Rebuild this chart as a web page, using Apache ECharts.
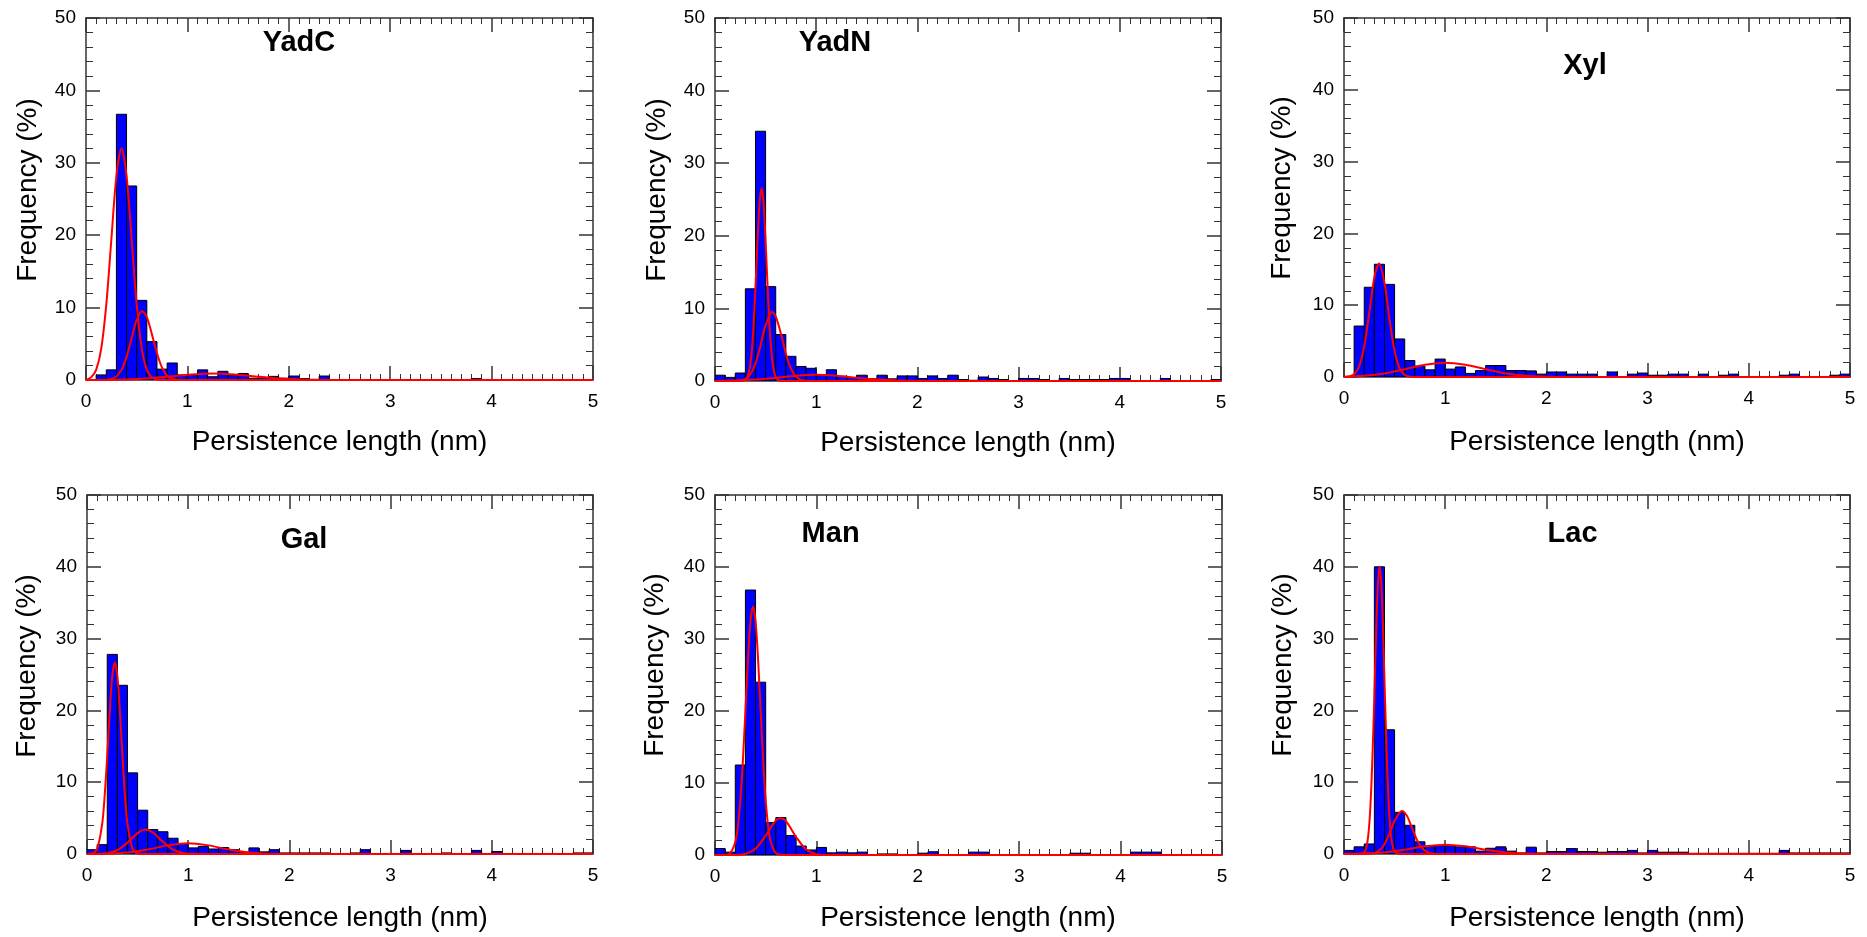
<!DOCTYPE html>
<html>
<head>
<meta charset="utf-8">
<script src="https://cdn.jsdelivr.net/npm/echarts@6/dist/echarts.min.js"></script>
<style>
html,body{margin:0;padding:0;background:#ffffff;}
#chart{width:1867px;height:937px;}
</style>
</head>
<body>
<div id="chart"></div>
<script>
// ---------------- DATA ----------------
const panelNames = ['YadC', 'YadN', 'Xyl', 'Gal', 'Man', 'Lac'];
const xTitle = 'Persistence length (nm)';
const yTitle = 'Frequency (%)';
const xTickLabels = ['0', '1', '2', '3', '4', '5'];
const yTickLabels = ['0', '10', '20', '30', '40', '50'];
const binWidth = 0.1;
const binStarts = [0,0.1,0.2,0.3,0.4,0.5,0.6,0.7,0.8,0.9,
  1.0,1.1,1.2,1.3,1.4,1.5,1.6,1.7,1.8,1.9,
  2.0,2.1,2.2,2.3,2.4,2.5,2.6,2.7,2.8,2.9,
  3.0,3.1,3.2,3.3,3.4,3.5,3.6,3.7,3.8,3.9,
  4.0,4.1,4.2,4.3,4.4,4.5,4.6,4.7,4.8,4.9];

// histogram frequencies (%) per bin
const yadcFreq = [0,0.7,1.4,36.7,26.8,11.0,5.3,1.5,2.35,0.7,
  0.7,1.4,0.45,1.2,0.6,0.9,0.25,0.3,0.5,0.25,
  0.55,0.2,0,0.55,0,0,0,0,0,0,
  0,0,0,0,0,0,0,0,0.2,0,
  0,0,0,0,0,0,0,0,0,0];
const yadnFreq = [0.8,0.5,1.1,12.7,34.4,13.0,6.4,3.4,2.0,1.75,
  0.8,1.55,0.65,0.45,0.8,0.3,0.8,0.3,0.7,0.7,
  0.35,0.7,0.35,0.8,0.2,0.1,0.55,0.35,0.2,0,
  0.35,0.35,0.2,0,0.35,0.2,0.2,0.2,0.2,0.35,
  0.35,0,0,0,0.35,0,0,0,0,0.2];
const xylFreq = [0,7.1,12.5,15.7,12.9,5.3,2.3,1.5,1.0,2.5,
  1.1,1.4,0.5,0.9,1.6,1.6,0.9,0.9,0.85,0.4,
  0.7,0.7,0.4,0.4,0.4,0,0.7,0,0.4,0.55,
  0.25,0.25,0.4,0.4,0,0.4,0,0.25,0.4,0,
  0,0,0,0.25,0.4,0,0,0,0.25,0.4];
const galFreq = [0.6,1.3,27.8,23.5,11.3,6.1,3.4,3.1,2.2,1.4,
  0.85,1.05,0.7,0.9,0.6,0.25,0.85,0.3,0.6,0.15,
  0.15,0.15,0.15,0.15,0,0,0.15,0.6,0,0,
  0,0.5,0,0,0,0.15,0,0,0.5,0,
  0.35,0,0,0,0,0,0,0,0.15,0.15];
const manFreq = [0.9,0.4,12.5,36.8,24.0,4.5,5.2,2.7,1.25,0.7,
  1.05,0.3,0.4,0.3,0.4,0,0.15,0.15,0,0,
  0.25,0.45,0,0,0,0.4,0.4,0,0,0,
  0,0,0,0,0,0.25,0.25,0,0,0,
  0,0.4,0.4,0.4,0,0,0,0,0,0];
const lacFreq = [0.5,1.0,1.4,40.0,17.3,5.8,4.0,1.7,1.05,1.15,
  1.15,1.0,1.0,0.4,0.8,1.0,0.4,0.15,0.95,0.15,
  0.35,0.35,0.75,0.35,0.35,0.25,0.35,0.35,0.5,0.15,
  0.5,0.25,0.25,0.25,0.1,0.1,0.1,0.1,0.1,0.1,
  0.1,0.1,0.1,0.5,0.15,0.15,0.15,0.15,0.15,0.15];

// fitted curves, points [x (nm), frequency (%)]
const yadcFit1 = [[0,0],[0.05,0.36],[0.1,1.4],[0.15,4.3],[0.2,10.4],[0.25,19.4],[0.3,28.2],[0.35,32],[0.4,28.2],[0.45,19.4],[0.5,10.4],[0.55,4.3],[0.6,1.4],[0.65,0.36],[0.7,0.07],[0.8,0],[5,0]];
const yadcFit2 = [[0,0],[0.2,0],[0.25,0.14],[0.3,0.5],[0.35,1.4],[0.4,3.2],[0.45,5.8],[0.5,8.3],[0.555,9.5],[0.6,8.7],[0.65,6.3],[0.7,3.7],[0.75,1.7],[0.8,0.6],[0.85,0.2],[0.9,0.05],[1.0,0],[5,0]];
const yadcFit3 = [[0,0],[0.2,0.02],[0.4,0.07],[0.6,0.21],[0.8,0.45],[1.0,0.73],[1.25,0.9],[1.5,0.73],[1.7,0.45],[1.9,0.21],[2.1,0.07],[2.3,0.02],[2.5,0],[5,0]];

const yadnFit1 = [[0,0],[0.25,0],[0.3,0.16],[0.325,0.7],[0.35,2.4],[0.375,6.2],[0.4,12.9],[0.415,17.7],[0.43,22.1],[0.445,25.3],[0.46,26.5],[0.475,25.3],[0.49,22.1],[0.505,17.7],[0.52,12.9],[0.545,6.2],[0.57,2.4],[0.595,0.7],[0.62,0.16],[0.67,0],[5,0]];
const yadnFit2 = [[0,0],[0.2,0],[0.25,0.07],[0.3,0.28],[0.35,0.94],[0.4,2.4],[0.45,4.9],[0.5,7.7],[0.565,9.5],[0.6,8.9],[0.65,6.6],[0.7,3.8],[0.75,1.7],[0.8,0.6],[0.85,0.16],[0.9,0.04],[1.0,0],[5,0]];
const yadnFit3 = [[0,0],[0.2,0.06],[0.4,0.2],[0.6,0.44],[0.8,0.72],[1.0,0.85],[1.2,0.72],[1.4,0.44],[1.6,0.2],[1.8,0.06],[2.0,0.01],[2.2,0],[5,0]];

const xylFit1 = [[0,0],[0.05,0.07],[0.1,0.39],[0.15,1.5],[0.2,4.3],[0.25,9.0],[0.3,13.9],[0.345,15.8],[0.4,13.1],[0.45,8.0],[0.5,3.6],[0.55,1.2],[0.6,0.29],[0.65,0.05],[0.7,0],[5,0]];
const xylFit2 = [[0,0.04],[0.2,0.17],[0.4,0.5],[0.6,1.08],[0.8,1.71],[1.0,2.0],[1.2,1.71],[1.4,1.08],[1.6,0.5],[1.8,0.17],[2.0,0.04],[2.2,0],[5,0]];

const galFit1 = [[0,0],[0.05,0.07],[0.1,0.71],[0.15,4.2],[0.175,8.2],[0.2,13.7],[0.225,19.9],[0.25,24.8],[0.275,26.7],[0.3,24.8],[0.325,19.9],[0.35,13.7],[0.375,8.2],[0.4,4.2],[0.45,0.71],[0.5,0.07],[0.55,0],[5,0]];
const galFit2 = [[0,0],[0.1,0],[0.2,0.11],[0.3,0.53],[0.4,1.57],[0.5,2.9],[0.58,3.4],[0.65,3.0],[0.75,1.7],[0.85,0.6],[0.95,0.13],[1.05,0.02],[1.2,0],[5,0]];
const galFit3 = [[0,0],[0.2,0.04],[0.4,0.2],[0.6,0.62],[0.8,1.2],[1.0,1.5],[1.2,1.2],[1.4,0.62],[1.6,0.2],[1.8,0.04],[2.0,0],[5,0]];

const manFit1 = [[0,0],[0.1,0],[0.15,0.26],[0.2,1.8],[0.225,3.9],[0.25,7.6],[0.275,13.1],[0.3,20.1],[0.325,27.1],[0.35,32.5],[0.375,34.5],[0.4,32.5],[0.425,27.1],[0.45,20.1],[0.475,13.1],[0.5,7.6],[0.525,3.9],[0.55,1.8],[0.6,0.26],[0.65,0.02],[0.7,0],[5,0]];
const manFit2 = [[0,0],[0.2,0],[0.25,0.05],[0.3,0.15],[0.4,0.86],[0.5,2.7],[0.6,4.8],[0.645,5.1],[0.7,4.7],[0.8,2.5],[0.9,0.75],[1.0,0.12],[1.1,0.01],[1.2,0],[5,0]];

const lacFit1 = [[0,0],[0.15,0],[0.18,0.07],[0.2,0.26],[0.22,0.9],[0.24,2.6],[0.26,6.4],[0.28,13],[0.3,22.2],[0.32,32],[0.336,37.8],[0.352,40],[0.368,37.8],[0.384,32],[0.404,22.2],[0.424,13],[0.444,6.4],[0.464,2.6],[0.484,0.9],[0.504,0.26],[0.524,0.07],[0.56,0],[5,0]];
const lacFit2 = [[0,0],[0.2,0],[0.25,0.03],[0.3,0.15],[0.35,0.51],[0.4,1.37],[0.45,2.85],[0.5,4.6],[0.572,6.0],[0.62,5.35],[0.67,3.7],[0.72,2.0],[0.77,0.85],[0.82,0.28],[0.87,0.07],[0.92,0.01],[1.0,0],[5,0]];
const lacFit3 = [[0,0],[0.2,0.06],[0.4,0.22],[0.6,0.6],[0.8,1.07],[1.0,1.3],[1.2,1.07],[1.4,0.6],[1.6,0.22],[1.8,0.06],[2.0,0.01],[2.2,0],[5,0]];

// ---------------- CHART ----------------
const panelFreqs = [yadcFreq, yadnFreq, xylFreq, galFreq, manFreq, lacFreq];
const panelFits = [
  [yadcFit1, yadcFit2, yadcFit3],
  [yadnFit1, yadnFit2, yadnFit3],
  [xylFit1, xylFit2],
  [galFit1, galFit2, galFit3],
  [manFit1, manFit2],
  [lacFit1, lacFit2, lacFit3]
];

const layouts = [
  { grid: {left: 86,  top: 18,  width: 507, height: 362}, title: [299, 43],   yT: [28.5, 190],  xT: [339.5, 442] },
  { grid: {left: 715, top: 18,  width: 506, height: 363}, title: [835, 43],   yT: [657.6, 190], xT: [968, 443] },
  { grid: {left: 1344,top: 18,  width: 506, height: 359}, title: [1585, 66],  yT: [1282.6, 188],xT: [1597, 442] },
  { grid: {left: 87,  top: 495, width: 506, height: 359}, title: [304, 540],  yT: [27, 666],    xT: [340, 918] },
  { grid: {left: 715, top: 495, width: 507, height: 360}, title: [830.6, 534],yT: [655, 665],   xT: [968, 918] },
  { grid: {left: 1344,top: 495, width: 506, height: 359}, title: [1572.6, 534],yT: [1283.4, 665],xT: [1597, 918] }
];

const FONT = '"Liberation Sans", Arial, Helvetica, sans-serif';
const frameColor = '#333333';

const grids = [], xAxes = [], yAxes = [], series = [], graphics = [];

function xAxisDef(gi, pos, showLabel) {
  return {
    gridIndex: gi, type: 'value', min: 0, max: 5, interval: 1, position: pos,
    axisLine: {show: true, onZero: false, lineStyle: {color: frameColor, width: 1.5}},
    axisTick: {show: true, inside: true, length: 14, lineStyle: {color: frameColor, width: 1.5}},
    minorTick: {show: true, splitNumber: 10, length: 6, lineStyle: {color: frameColor, width: 1}},
    axisLabel: {show: showLabel, margin: 12, fontSize: 19, fontFamily: FONT, color: '#000',
      formatter: v => xTickLabels[Math.round(v)]},
    splitLine: {show: false}, minorSplitLine: {show: false}
  };
}
function yAxisDef(gi, pos, showLabel) {
  return {
    gridIndex: gi, type: 'value', min: 0, max: 50, interval: 10, position: pos,
    axisLine: {show: true, onZero: false, lineStyle: {color: frameColor, width: 1.5}},
    axisTick: {show: true, inside: true, length: 14, lineStyle: {color: frameColor, width: 1.5}},
    minorTick: {show: true, splitNumber: 5, length: 7, lineStyle: {color: frameColor, width: 1}},
    axisLabel: {show: showLabel, margin: 10, fontSize: 19, fontFamily: FONT, color: '#000',
      formatter: v => yTickLabels[Math.round(v / 10)]},
    splitLine: {show: false}, minorSplitLine: {show: false}
  };
}

function renderBar(params, api) {
  const v = api.value(2);
  if (!(v > 0)) return null;
  const p0 = api.coord([api.value(0), v]);
  const p1 = api.coord([api.value(1), 0]);
  return {
    type: 'rect',
    shape: {x: p0[0], y: p0[1], width: p1[0] - p0[0], height: p1[1] - p0[1]},
    style: {fill: '#0000ff', stroke: '#000000', lineWidth: 1}
  };
}

for (let i = 0; i < 6; i++) {
  const L = layouts[i];
  grids.push(Object.assign({}, L.grid));
  xAxes.push(xAxisDef(i, 'bottom', true));
  xAxes.push(xAxisDef(i, 'top', false));
  yAxes.push(yAxisDef(i, 'left', true));
  yAxes.push(yAxisDef(i, 'right', false));

  const freq = panelFreqs[i];
  series.push({
    type: 'custom', xAxisIndex: 2 * i, yAxisIndex: 2 * i, clip: true,
    renderItem: renderBar,
    encode: {x: [0, 1], y: 2},
    data: binStarts.map((s, j) => [s, +(s + binWidth).toFixed(2), freq[j]]),
    z: 2, silent: true
  });
  panelFits[i].forEach(fit => {
    series.push({
      type: 'line', xAxisIndex: 2 * i, yAxisIndex: 2 * i, data: fit,
      showSymbol: false, symbol: 'none', smooth: 0.3, clip: true,
      lineStyle: {color: '#ff0000', width: 2}, z: 3, silent: true
    });
  });

  graphics.push({
    type: 'text', x: L.title[0], y: L.title[1], z: 10,
    style: {text: panelNames[i], fontSize: 29, fontWeight: 'bold', fontFamily: FONT,
      fill: '#000', align: 'center', verticalAlign: 'middle'}
  });
  graphics.push({
    type: 'text', x: L.yT[0], y: L.yT[1], rotation: Math.PI / 2, z: 10,
    style: {text: yTitle, fontSize: 28, fontFamily: FONT,
      fill: '#000', align: 'center', verticalAlign: 'middle'}
  });
  graphics.push({
    type: 'text', x: L.xT[0], y: L.xT[1], z: 10,
    style: {text: xTitle, fontSize: 28, fontFamily: FONT,
      fill: '#000', align: 'center', verticalAlign: 'middle'}
  });
}

const chart = echarts.init(document.getElementById('chart'), null, {renderer: 'canvas', width: 1867, height: 937});
chart.setOption({
  backgroundColor: '#ffffff',
  animation: false,
  grid: grids,
  xAxis: xAxes,
  yAxis: yAxes,
  series: series,
  graphic: graphics
});
</script>
</body>
</html>
